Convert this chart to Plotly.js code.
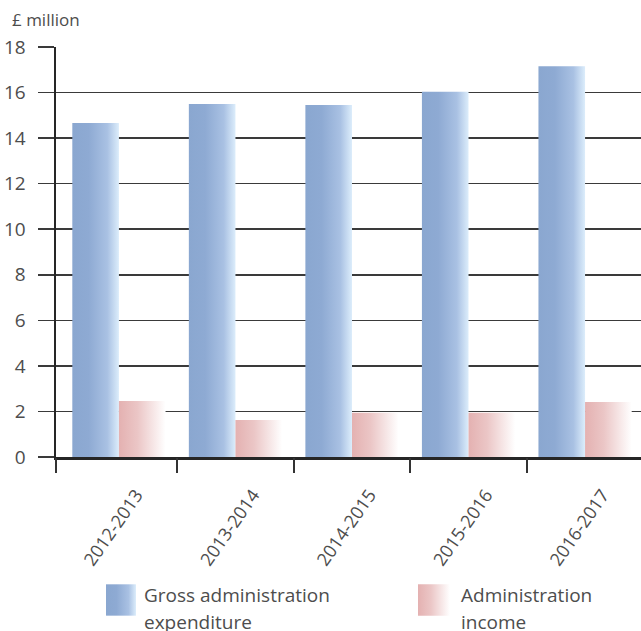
<!DOCTYPE html>
<html>
<head>
<meta charset="utf-8">
<script src="https://cdn.plot.ly/plotly-3.0.1.min.js"></script>
<style>
  html, body { margin: 0; padding: 0; background: #fff; }
  #chart { width: 641px; height: 631px; }
</style>
</head>
<body>
<div id="chart"></div>
<script>
// Administration costs and income, £ million
const years = ['2012-2013', '2013-2014', '2014-2015', '2015-2016', '2016-2017'];
const grossExpenditure = [14.66, 15.50, 15.45, 16.03, 17.16];
const adminIncome = [2.46, 1.62, 1.94, 1.94, 2.41];
const seriesNames = ['Gross administration expenditure', 'Administration income'];
const legendLines = [['Gross administration', 'expenditure'], ['Administration', 'income']];
const yTicks = [0, 2, 4, 6, 8, 10, 12, 14, 16, 18];

const FONT = '"Open Sans", "Noto Sans", sans-serif';
const TEXT = '#4d4d4d';
const XRANGE = [-0.54, 4.48];
const LABEL_SHIFT = 0.15;

const traces = [
  {
    type: 'bar', name: seriesNames[0], x: years, y: grossExpenditure,
    width: 0.4, offset: -0.4,
    marker: { color: '#8eaad3', line: { width: 0 } },
    hoverinfo: 'skip', showlegend: false
  },
  {
    type: 'bar', name: seriesNames[1], x: years, y: adminIncome,
    width: 0.4, offset: 0,
    marker: { color: '#e6b5b5', line: { width: 0 } },
    hoverinfo: 'skip', showlegend: false
  },
  // empty traces so the boundary-tick axis and the label axis get drawn
  { type: 'scatter', x: [], y: [], xaxis: 'x2', yaxis: 'y', showlegend: false, hoverinfo: 'skip' },
  { type: 'scatter', x: [], y: [], xaxis: 'x3', yaxis: 'y', showlegend: false, hoverinfo: 'skip' }
];

// legend swatches and text
const swatchX = [[0.0855, 0.1368], [0.6188, 0.6735]];
const textX = [0.1470, 0.6889];
const lineY = [-0.3376, -0.4024];
const shapes = swatchX.map(([x0, x1]) => ({
  type: 'rect', xref: 'paper', yref: 'paper',
  x0: x0, x1: x1, y0: -0.387, y1: -0.3105,
  line: { width: 0 }, fillcolor: '#cccccc'
}));
const annotations = [];
legendLines.forEach((lines, i) => {
  lines.forEach((t, j) => {
    annotations.push({
      xref: 'paper', yref: 'paper', x: textX[i], y: lineY[j],
      xanchor: 'left', yanchor: 'middle', showarrow: false, text: t,
      font: { family: FONT, size: 19, color: TEXT }
    });
  });
});
annotations.push({
  xref: 'paper', yref: 'paper', x: -0.0786, y: 1.066,
  xanchor: 'left', yanchor: 'middle', showarrow: false, text: '£ million',
  font: { family: FONT, size: 17, color: TEXT }
});

const layout = {
  width: 641, height: 631,
  margin: { l: 56, r: 0, t: 47, b: 174 },
  paper_bgcolor: '#ffffff', plot_bgcolor: '#ffffff',
  barmode: 'group',
  showlegend: false,
  font: { family: FONT, color: TEXT },
  xaxis: {
    type: 'category', range: XRANGE, fixedrange: true,
    showline: true, linecolor: '#262626', linewidth: 2.5,
    ticks: '', showticklabels: false, showgrid: false, zeroline: false
  },
  xaxis2: {
    overlaying: 'x', anchor: 'y', side: 'bottom', type: 'linear', range: XRANGE,
    tickmode: 'array', tickvals: [XRANGE[0], 0.5, 1.5, 2.5, 3.5],
    ticks: 'outside', ticklen: 15, tickwidth: 2, tickcolor: '#333333',
    showticklabels: false, showgrid: false, zeroline: false, showline: false
  },
  xaxis3: {
    overlaying: 'x', anchor: 'y', side: 'bottom', type: 'linear',
    range: [XRANGE[0] - LABEL_SHIFT, XRANGE[1] - LABEL_SHIFT],
    tickmode: 'array', tickvals: years.map((_, i) => i), ticktext: years,
    tickangle: -55, ticks: '', ticklabelstandoff: 23,
    tickfont: { family: FONT, size: 18, color: TEXT },
    showgrid: false, zeroline: false, showline: false
  },
  yaxis: {
    range: [0, 18], tickmode: 'array', tickvals: yTicks, fixedrange: true,
    showgrid: true, gridcolor: '#3a3a3a', gridwidth: 1.5,
    ticks: 'outside', ticklen: 16, tickwidth: 1.5, tickcolor: '#3a3a3a',
    showline: true, linecolor: '#262626', linewidth: 2.5,
    zeroline: false, ticklabelstandoff: 8,
    tickfont: { family: FONT, size: 19, color: TEXT }
  },
  shapes: shapes,
  annotations: annotations
};

function addGradients(gd) {
  const svg = gd.querySelector('.main-svg');
  const ns = 'http://www.w3.org/2000/svg';
  let defs = svg.querySelector('defs');
  if (!defs) { defs = document.createElementNS(ns, 'defs'); svg.insertBefore(defs, svg.firstChild); }
  const grads = {
    gradBlue: [[0, '#8aa7d0'], [0.35, '#8eaad3'], [0.75, '#a9c1e3'], [1, '#dcedfb']],
    gradPink: [[0, '#e4b1b1'], [0.4, '#ebc6c6'], [1, '#ffffff']]
  };
  Object.keys(grads).forEach(id => {
    if (defs.querySelector('#' + id)) return;
    const g = document.createElementNS(ns, 'linearGradient');
    g.setAttribute('id', id);
    g.setAttribute('x1', '0'); g.setAttribute('y1', '0');
    g.setAttribute('x2', '1'); g.setAttribute('y2', '0');
    grads[id].forEach(([o, c]) => {
      const s = document.createElementNS(ns, 'stop');
      s.setAttribute('offset', o);
      s.setAttribute('stop-color', c);
      g.appendChild(s);
    });
    defs.appendChild(g);
  });
  const ids = ['gradBlue', 'gradPink'];
  gd.querySelectorAll('.barlayer .trace').forEach((tr, i) => {
    tr.querySelectorAll('path').forEach(p => { p.style.fill = 'url(#' + ids[i] + ')'; });
  });
  gd.querySelectorAll('.shapelayer path').forEach((p, i) => {
    if (i < ids.length) p.style.fill = 'url(#' + ids[i] + ')';
  });
}

Plotly.newPlot('chart', traces, layout, { displayModeBar: false, staticPlot: true })
  .then(addGradients);
</script>
</body>
</html>
